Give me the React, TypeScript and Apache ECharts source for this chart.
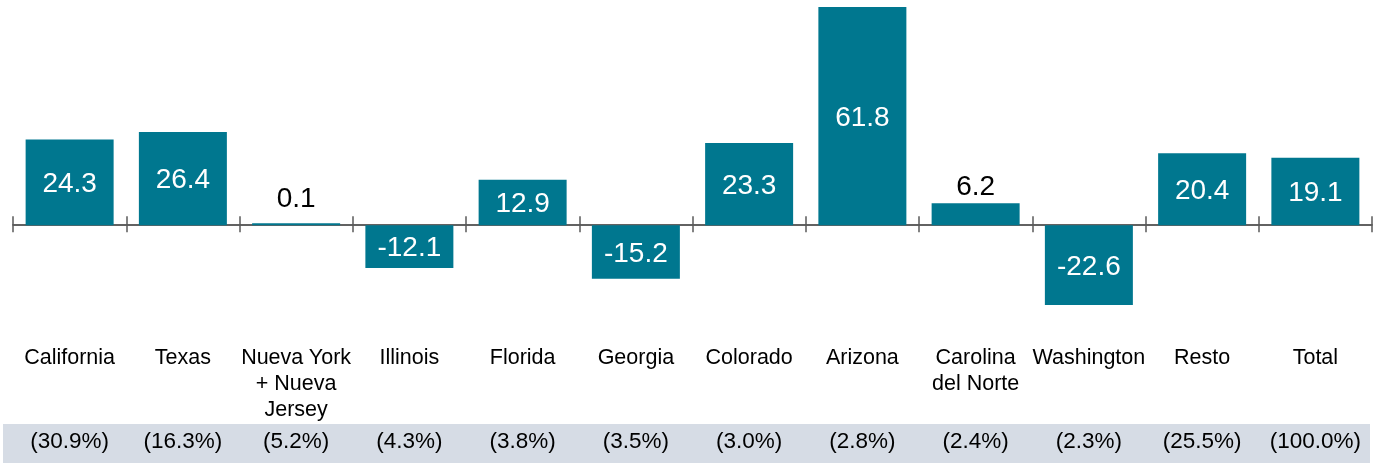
import React, { useEffect, useRef } from "react";
import * as echarts from "echarts";

const categories = [
  "California",
  "Texas",
  "Nueva York\n+ Nueva\nJersey",
  "Illinois",
  "Florida",
  "Georgia",
  "Colorado",
  "Arizona",
  "Carolina\ndel Norte",
  "Washington",
  "Resto",
  "Total",
];
const values = [24.3, 26.4, 0.1, -12.1, 12.9, -15.2, 23.3, 61.8, 6.2, -22.6, 20.4, 19.1];
const shares = ["(30.9%)", "(16.3%)", "(5.2%)", "(4.3%)", "(3.8%)", "(3.5%)", "(3.0%)", "(2.8%)", "(2.4%)", "(2.3%)", "(25.5%)", "(100.0%)"];
const outsideLabelThreshold = 8;

const BAR = "#00778f";
const FONT = "Liberation Sans, Arial, sans-serif";

export default function App() {
  const ref = useRef<HTMLDivElement>(null);
  useEffect(() => {
    if (!ref.current) return;
    const chart = echarts.init(ref.current, undefined, { renderer: "svg" });
    const axisLineStyle = { color: "#595959", width: 1.5 };
    chart.setOption({
      animation: false,
      graphic: [
        {
          type: "rect",
          shape: { x: 3, y: 424, width: 1367, height: 39 },
          style: { fill: "#d6dce5" },
          z: -10,
        },
      ],
      grid: { left: 13, right: 7, top: 7, bottom: 158, containLabel: false, outerBoundsMode: "none" },
      yAxis: [
        { type: "value", min: -22.6, max: 61.8, show: false },
        { type: "value", min: -22.6, max: 61.8, show: false },
      ],
      xAxis: [
        {
          type: "category",
          data: categories,
          position: "bottom",
          axisLine: { show: true, onZero: true, onZeroAxisIndex: 0, lineStyle: axisLineStyle },
          axisTick: { show: true, length: 7, lineStyle: axisLineStyle },
          axisLabel: { show: false },
        },
        {
          type: "category",
          data: categories,
          position: "bottom",
          axisLine: { show: true, onZero: true, onZeroAxisIndex: 1, lineStyle: axisLineStyle },
          axisTick: { show: true, inside: true, length: 9, lineStyle: axisLineStyle },
          axisLabel: { show: false },
        },
        {
          type: "category",
          data: categories,
          position: "bottom",
          offset: 0,
          axisLine: { show: false, onZero: false },
          axisTick: { show: false },
          axisLabel: {
            margin: 39,
            fontSize: 21.5,
            lineHeight: 26,
            color: "#000",
            fontFamily: FONT,
            interval: 0,
            align: "center",
          },
        },
        {
          type: "category",
          data: shares,
          position: "bottom",
          offset: 0,
          axisLine: { show: false, onZero: false },
          axisTick: { show: false },
          axisLabel: {
            margin: 135,
            fontSize: 22.5,
            color: "#000",
            fontFamily: FONT,
            interval: 0,
            verticalAlign: "middle",
          },
        },
      ],
      series: [
        {
          type: "bar",
          xAxisIndex: 0,
          yAxisIndex: 0,
          barWidth: 88,
          barMinHeight: 2,
          itemStyle: { color: BAR },
          data: values.map((v) => {
            const outside = Math.abs(v) < outsideLabelThreshold;
            return {
              value: v,
              label: outside
                ? { show: true, position: "top", distance: v < 1 ? 12 : 4, color: "#000", fontSize: 28, fontFamily: FONT }
                : { show: true, position: "inside", color: "#fff", fontSize: 28, fontFamily: FONT },
            };
          }),
        },
      ],
    });
    return () => chart.dispose();
  }, []);
  return (
    <div
      ref={ref}
      style={{ position: "fixed", left: 0, top: 0, width: 1379, height: 463 }}
    />
  );
}
